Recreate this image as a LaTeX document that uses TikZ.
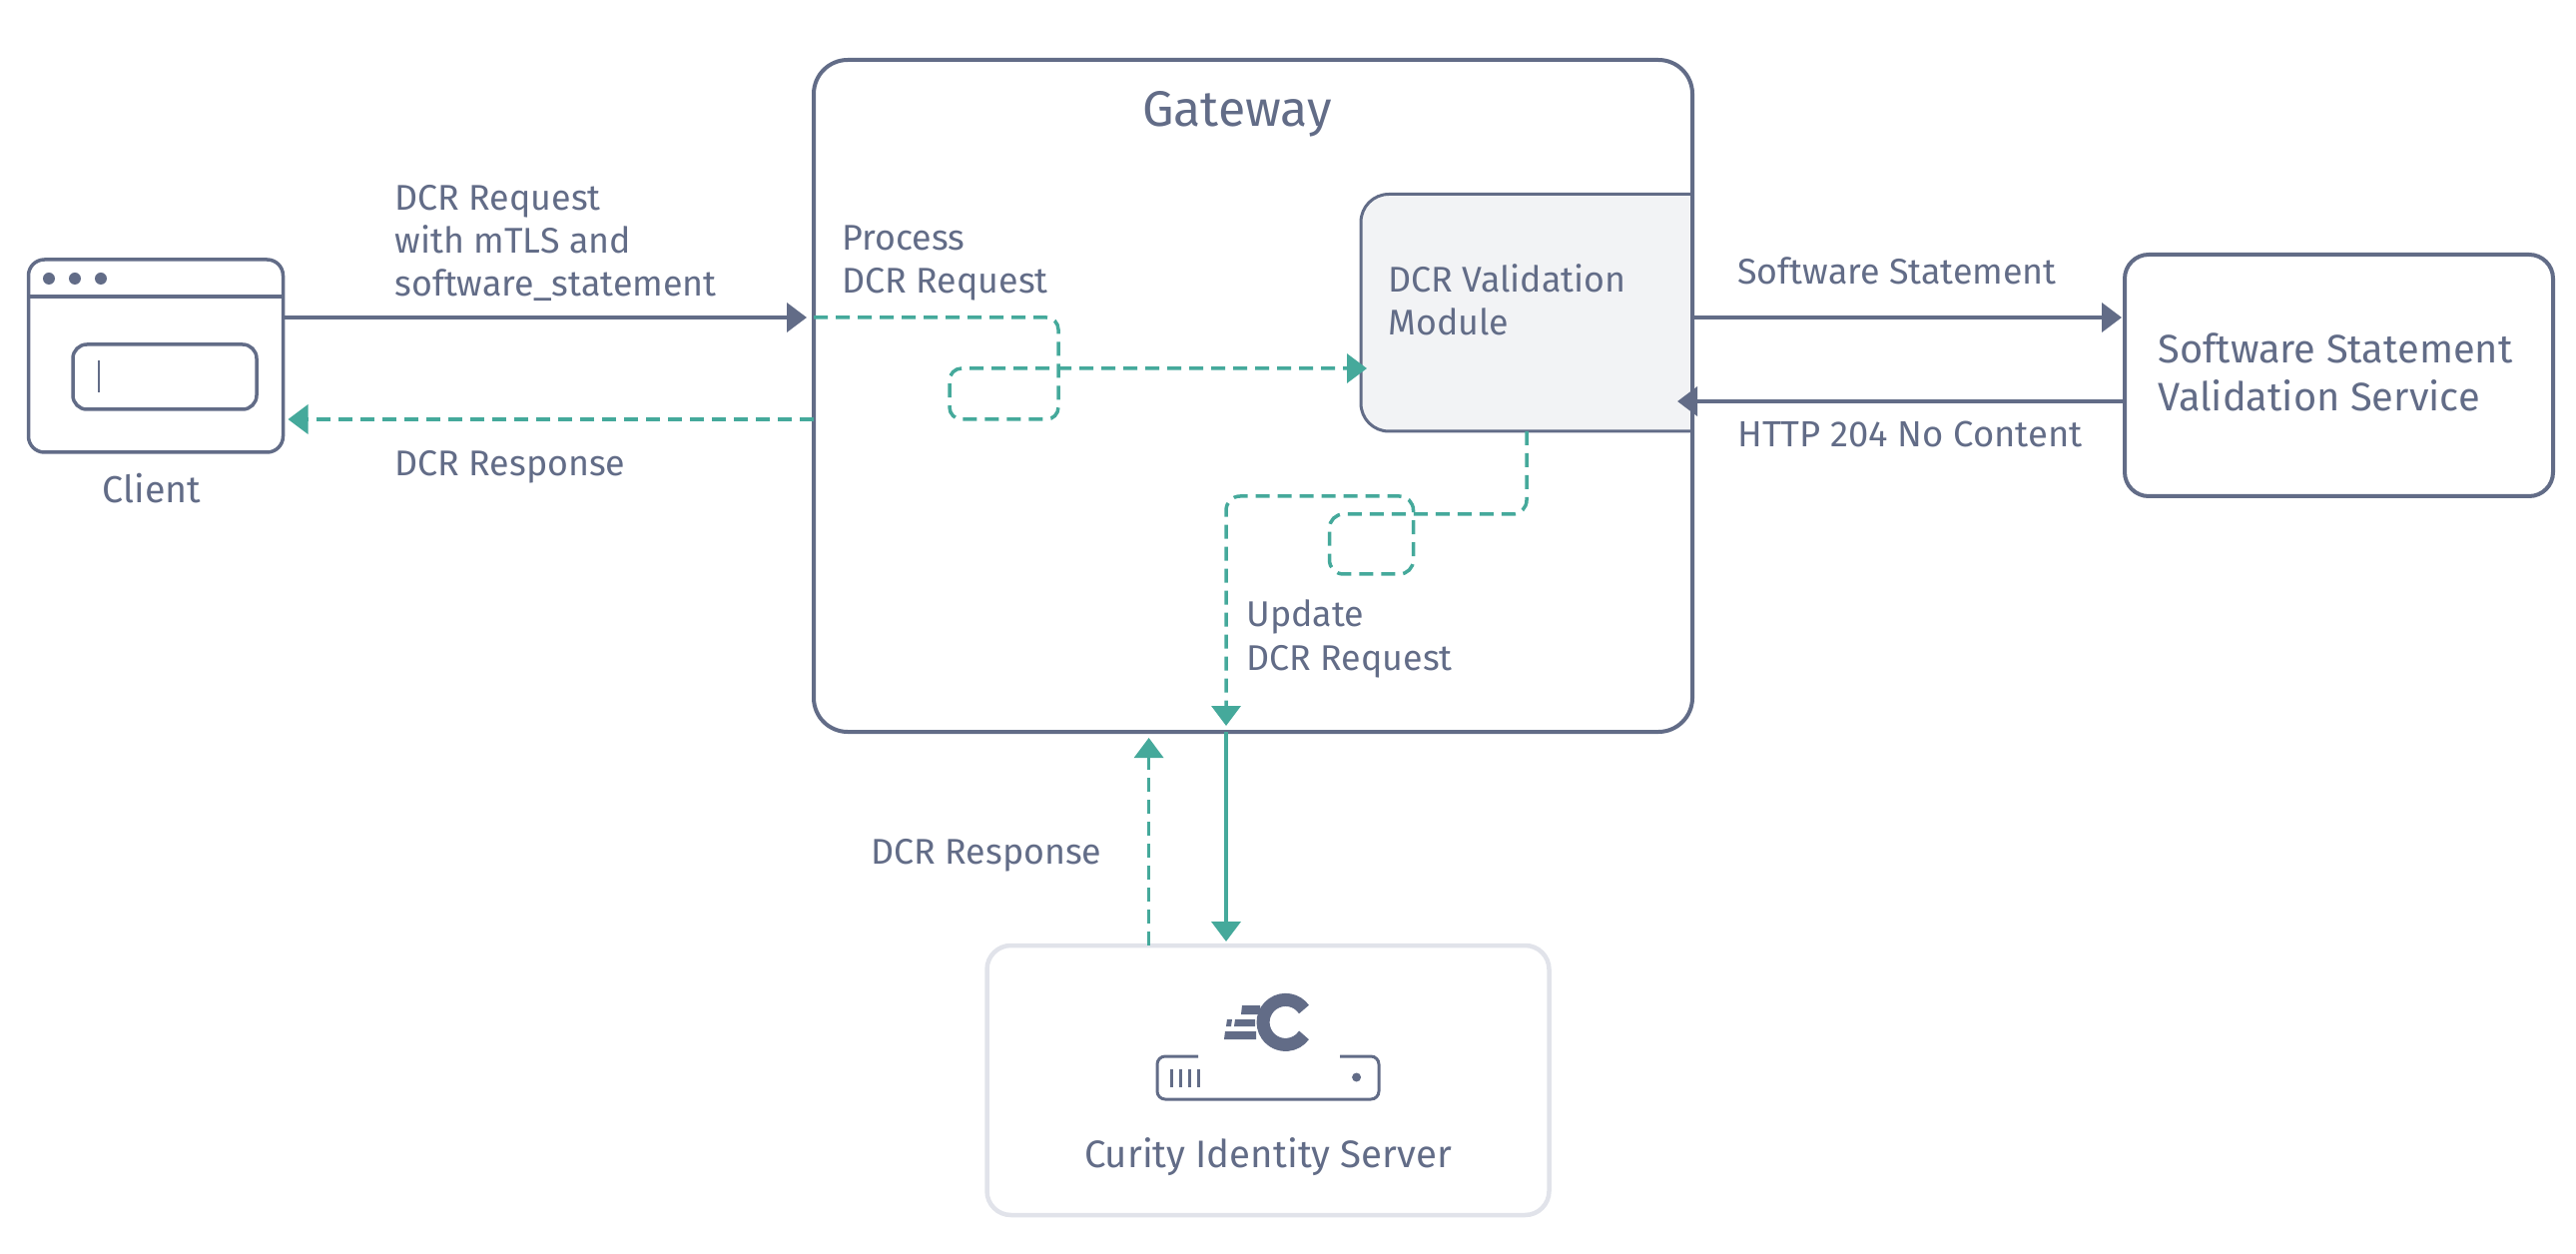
\documentclass[tikz,border=0pt]{standalone}
\usepackage{fontspec}
\setmainfont{Fira Sans}
\usetikzlibrary{arrows.meta,positioning}

\definecolor{slate}{HTML}{626C87}
\definecolor{teal}{HTML}{45A99B}
\definecolor{mist}{HTML}{F2F3F5}
\definecolor{frame}{HTML}{E1E3EA}

\tikzset{
	box/.style={draw=slate, line width=2pt, rounded corners=12pt, inner sep=0pt, outer sep=0pt},
	txt/.style={text=slate, inner sep=0pt, align=left, font=\fontsize{17.9}{21.6}\selectfont},
	bigtxt/.style={txt, font=\fontsize{19.6}{24}\selectfont},
	flow/.style={->, color=slate, line width=2pt},
	answer/.style={->, color=teal, line width=1.75pt, dash pattern=on 7pt off 4pt},
	steps/.style={answer, rounded corners=6pt},
	call/.style={->, color=teal, line width=2pt},
}

\begin{document}
\begin{tikzpicture}[x=0.5pt, y=-0.5pt, >={Triangle[length=10pt,width=14.5pt]}]
	\useasboundingbox (0,0) rectangle (2580,1256);

	% Boxes
	\node [box, rounded corners=17pt, minimum width=440pt, minimum height=336.5pt] (gateway) at (1255,396.5) {};
	\node [box, minimum width=214.5pt, minimum height=121pt] (service) at (2342.5,376) {};
	\node [box, draw=frame, line width=2.25pt, minimum width=281.5pt, minimum height=135pt] (server) at (1270,1082) {};
	\node [box, rounded corners=8pt, line width=1.75pt, minimum width=127.5pt, minimum height=96.5pt] (client) at (156,356.5) {};
	\node [box, rounded corners=7pt, line width=1.75pt, minimum width=92pt, minimum height=32.5pt] (field) at (165,377.5) {};

	% Module, square on the gateway side
	\draw [draw=slate, fill=mist, line width=1.5pt, rounded corners=14pt] (1695,194.5) -- (1363,194.5) -- (1363,432) -- (1695,432);
	\draw [slate, line width=2pt] (1695,194.5) -- (1695,432);
	\node [inner sep=0pt, outer sep=0pt, minimum width=166pt, minimum height=118.75pt] (module) at (1529,313.25) {};

	% Client window
	\draw [slate, line width=1.75pt] (client.west |- 0,297) -- (client.east |- 0,297);
	\foreach \dotx in {49,75,101}
		\fill [slate] (\dotx,279) circle (3pt);
	\draw [slate, line width=1pt] (99,361) -- (99,393);

	% Server icon
	\fill [slate] (1244,1007) -- (1262,1007) -- (1262,1016) -- (1243,1016) -- cycle;
	\fill [slate] (1237,1021) -- (1257,1021) -- (1257,1028) -- (1236,1028) -- cycle;
	\fill [slate] (1229,1021) -- (1234,1021) -- (1233,1028) -- (1228,1028) -- cycle;
	\fill [slate] (1227,1033) -- (1258,1033) -- (1258,1041) -- (1226,1041) -- cycle;
	\draw [slate, line width=6.5pt] (1306,1011) arc [start angle=35, end angle=325, radius=11.25pt];
	\draw [slate, line width=1.5pt, rounded corners=4pt] (1200,1058) -- (1159,1058) -- (1159,1101) -- (1381,1101) -- (1381,1058) -- (1342,1058);
	\foreach \tickx in {1173.5,1182.5,1191.5,1200.5}
		\draw [slate, line width=1.25pt] (\tickx,1071) -- (\tickx,1089);
	\fill [slate] (1358.6,1079) circle (2.25pt);

	% Labels
	\node [bigtxt, font=\fontsize{25}{28}\selectfont, anchor=base] (gatewaytxt) at (1239,127) {Gateway};
	\node [txt, font=\fontsize{18.8}{22}\selectfont, anchor=base] (clienttxt) at (152,504) {Client};
	\node [txt, anchor=base west] (reqtxt) at (395,297) {DCR Request\\with mTLS and\\software\_statement};
	\node [txt, anchor=base west] (resptxt) at (395,477) {DCR Response};
	\node [txt, anchor=base west] (proctxt) at (843,294) {Process\\DCR Request};
	\node [txt, anchor=base west] (modtxt) at (1390,336) {DCR Validation\\Module};
	\node [txt, anchor=base west] (updtxt) at (1248,671) {Update\\DCR Request};
	\node [txt, anchor=base west] (stmtxt) at (1740,285) {Software Statement};
	\node [txt, font=\fontsize{18.2}{22}\selectfont, anchor=base west] (httptxt) at (1740,448) {HTTP 204 No Content};
	\node [bigtxt, font=\fontsize{19.9}{24}\selectfont, anchor=base west] (servicetxt) at (2161,412) {Software Statement\\Validation Service};
	\node [bigtxt, font=\fontsize{19.2}{24}\selectfont, anchor=base] (servertxt) at (1270,1169) {Curity Identity Server};
	\node [txt, anchor=base west] (curtxt) at (872,865) {DCR Response};

	% Ends of the paths
	\coordinate (reqin) at (815,318);
	\coordinate (respout) at (815,420);
	\coordinate (modin) at (1363,369);
	\coordinate (modout) at (1529,432);
	\coordinate (stmout) at (1695,318);
	\coordinate (httpin) at (1695,402);
	\coordinate (gwdown) at (1228,733);
	\coordinate (gwup) at (1150.6,733);

	% Paths
	\path [flow, shorten >=3.5pt] (client.east |- reqin) edge (reqin);
	\path [answer, shorten >=2.5pt] (respout) edge (client.east |- respout);
	\draw [steps, shorten >=-3pt] (reqin) -- (1060,318) -- (1060,420) -- (951,420) -- (951,369) -- (modin);
	\draw [steps, rounded corners=7pt, shorten >=3pt] (modout) -- (1529,515) -- (1331.5,515) -- (1331.5,575) -- (1415.5,575) -- (1415.5,497) -- (1228,497) -- (gwdown);
	\path [flow, shorten >=1.5pt] (stmout) edge (service.west |- stmout);
	\path [flow, shorten >=-7.5pt] (service.west |- httpin) edge (httpin);
	\path [call, shorten >=2pt] (gwdown) edge (server.north -| gwdown);
	\path [answer, shorten >=3pt] (server.north -| gwup) edge (gwup);
\end{tikzpicture}
\end{document}
